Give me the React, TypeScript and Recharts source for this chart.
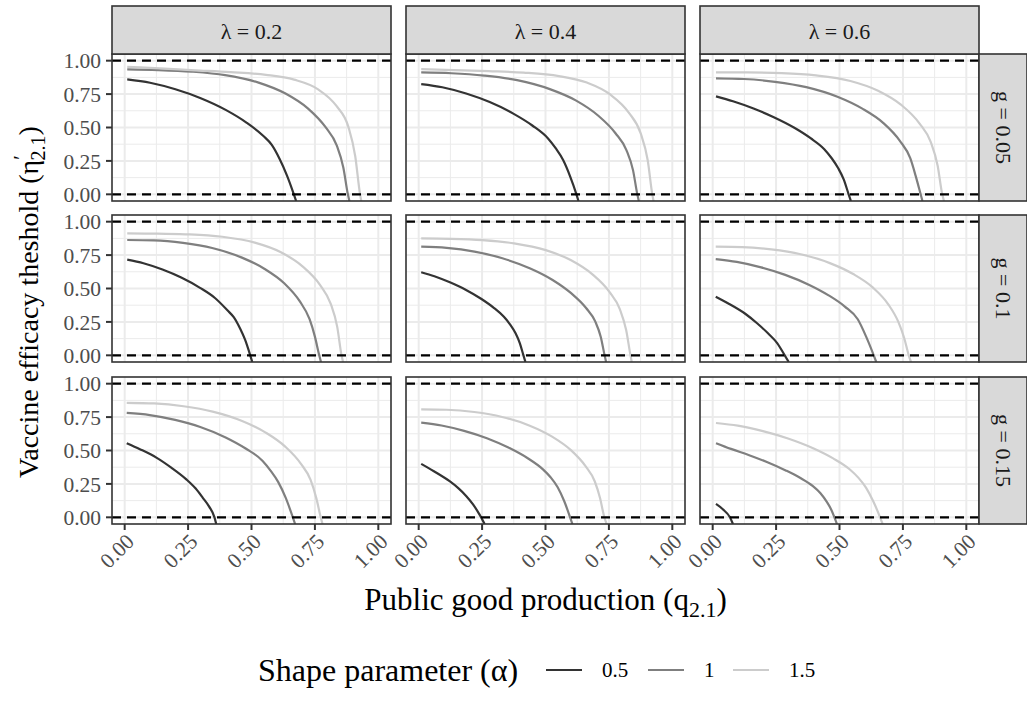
import { LineChart, Line, XAxis, YAxis, ReferenceLine } from 'recharts';

const lambdas = ['0.2', '0.4', '0.6'];
const gValues = ['0.05', '0.1', '0.15'];
const alphas = ['0.5', '1', '1.5'];
const alphaColors = ['#333333', '#7f7f7f', '#cccccc'];
const majorTicks = [0, 0.25, 0.5, 0.75, 1];
const minorTicks = [0.125, 0.375, 0.625, 0.875];

// each panel: [alpha 0.5, alpha 1, alpha 1.5], points are [q, eta]
// g = 0.05
const g005_l02 = [
  [[0.01, 0.86], [0.1, 0.835], [0.2, 0.786], [0.3, 0.719], [0.4, 0.63], [0.48, 0.537], [0.547, 0.436], [0.58, 0.37], [0.61, 0.268], [0.64, 0.14], [0.667, 0], [0.676, -0.05]],
  [[0.01, 0.935], [0.132, 0.93], [0.264, 0.918], [0.396, 0.892], [0.528, 0.836], [0.634, 0.754], [0.722, 0.643], [0.792, 0.502], [0.836, 0.366], [0.862, 0.2], [0.88, 0], [0.886, -0.05]],
  [[0.01, 0.954], [0.139, 0.942], [0.278, 0.928], [0.418, 0.914], [0.557, 0.894], [0.668, 0.858], [0.761, 0.787], [0.835, 0.661], [0.882, 0.505], [0.909, 0.285], [0.928, 0], [0.933, -0.05]],
];
const g005_l04 = [
  [[0.01, 0.825], [0.093, 0.801], [0.187, 0.754], [0.28, 0.69], [0.373, 0.604], [0.448, 0.515], [0.51, 0.418], [0.54, 0.345], [0.57, 0.255], [0.597, 0.135], [0.622, 0], [0.63, -0.05]],
  [[0.01, 0.912], [0.129, 0.906], [0.259, 0.888], [0.388, 0.854], [0.517, 0.787], [0.621, 0.701], [0.707, 0.59], [0.776, 0.457], [0.819, 0.331], [0.845, 0.181], [0.862, 0], [0.868, -0.05]],
  [[0.01, 0.937], [0.138, 0.93], [0.276, 0.922], [0.414, 0.911], [0.553, 0.885], [0.663, 0.836], [0.755, 0.747], [0.829, 0.61], [0.875, 0.458], [0.903, 0.255], [0.921, 0], [0.926, -0.05]],
];
const g005_l06 = [
  [[0.013, 0.733], [0.08, 0.696], [0.161, 0.642], [0.241, 0.577], [0.322, 0.498], [0.386, 0.42], [0.44, 0.338], [0.47, 0.268], [0.495, 0.195], [0.517, 0.11], [0.536, 0], [0.545, -0.05]],
  [[0.013, 0.868], [0.123, 0.863], [0.246, 0.842], [0.369, 0.802], [0.492, 0.73], [0.59, 0.641], [0.672, 0.535], [0.738, 0.4], [0.779, 0.27], [0.8, 0.14], [0.82, 0], [0.827, -0.05]],
  [[0.013, 0.913], [0.136, 0.912], [0.272, 0.907], [0.407, 0.89], [0.543, 0.848], [0.652, 0.775], [0.742, 0.671], [0.815, 0.531], [0.86, 0.39], [0.887, 0.214], [0.905, 0], [0.912, -0.05]],
];
// g = 0.1
const g01_l02 = [
  [[0.01, 0.716], [0.074, 0.689], [0.149, 0.642], [0.223, 0.582], [0.297, 0.505], [0.356, 0.429], [0.406, 0.335], [0.43, 0.285], [0.455, 0.2], [0.475, 0.115], [0.495, 0], [0.503, -0.05]],
  [[0.01, 0.863], [0.115, 0.86], [0.23, 0.841], [0.345, 0.803], [0.46, 0.733], [0.552, 0.646], [0.629, 0.539], [0.69, 0.405], [0.729, 0.27], [0.75, 0.14], [0.767, 0], [0.774, -0.05]],
  [[0.01, 0.913], [0.128, 0.91], [0.257, 0.905], [0.385, 0.887], [0.513, 0.843], [0.616, 0.771], [0.701, 0.666], [0.77, 0.527], [0.812, 0.387], [0.838, 0.213], [0.855, 0], [0.861, -0.05]],
];
const g01_l04 = [
  [[0.01, 0.622], [0.062, 0.592], [0.123, 0.546], [0.185, 0.491], [0.246, 0.423], [0.295, 0.357], [0.336, 0.288], [0.36, 0.232], [0.382, 0.165], [0.399, 0.09], [0.413, 0], [0.421, -0.05]],
  [[0.01, 0.813], [0.11, 0.804], [0.22, 0.776], [0.33, 0.726], [0.44, 0.65], [0.528, 0.564], [0.601, 0.465], [0.66, 0.354], [0.696, 0.254], [0.718, 0.137], [0.733, 0], [0.739, -0.05]],
  [[0.01, 0.875], [0.125, 0.872], [0.251, 0.862], [0.376, 0.838], [0.501, 0.787], [0.601, 0.711], [0.685, 0.606], [0.752, 0.475], [0.793, 0.346], [0.818, 0.189], [0.835, 0], [0.84, -0.05]],
];
const g01_l06 = [
  [[0.012, 0.438], [0.06, 0.39], [0.127, 0.313], [0.175, 0.24], [0.219, 0.163], [0.255, 0.09], [0.284, 0], [0.3, -0.05]],
  [[0.012, 0.72], [0.095, 0.699], [0.191, 0.658], [0.286, 0.602], [0.381, 0.527], [0.457, 0.449], [0.521, 0.365], [0.572, 0.27], [0.605, 0.14], [0.635, 0], [0.645, -0.05]],
  [[0.012, 0.813], [0.116, 0.81], [0.231, 0.793], [0.347, 0.756], [0.462, 0.69], [0.554, 0.608], [0.631, 0.508], [0.693, 0.38], [0.732, 0.25], [0.755, 0.13], [0.773, 0], [0.782, -0.05]],
];
// g = 0.15
const g015_l02 = [
  [[0.008, 0.555], [0.06, 0.51], [0.125, 0.447], [0.185, 0.37], [0.243, 0.284], [0.28, 0.215], [0.308, 0.146], [0.333, 0.08], [0.354, 0], [0.361, -0.05]],
  [[0.008, 0.781], [0.099, 0.765], [0.199, 0.729], [0.298, 0.676], [0.398, 0.598], [0.477, 0.515], [0.544, 0.422], [0.575, 0.35], [0.605, 0.265], [0.635, 0.145], [0.663, 0], [0.672, -0.05]],
  [[0.008, 0.857], [0.116, 0.852], [0.232, 0.831], [0.347, 0.791], [0.463, 0.721], [0.556, 0.634], [0.633, 0.529], [0.695, 0.4], [0.733, 0.28], [0.756, 0.14], [0.773, 0], [0.78, -0.05]],
];
const g015_l04 = [
  [[0.01, 0.4], [0.06, 0.345], [0.122, 0.27], [0.155, 0.22], [0.188, 0.158], [0.215, 0.095], [0.24, 0.02], [0.26, -0.05]],
  [[0.01, 0.708], [0.09, 0.687], [0.179, 0.647], [0.269, 0.592], [0.358, 0.518], [0.43, 0.442], [0.49, 0.359], [0.52, 0.3], [0.548, 0.225], [0.574, 0.12], [0.597, 0], [0.606, -0.05]],
  [[0.01, 0.808], [0.11, 0.805], [0.219, 0.788], [0.329, 0.751], [0.438, 0.686], [0.526, 0.604], [0.599, 0.505], [0.657, 0.385], [0.694, 0.27], [0.715, 0.145], [0.732, 0], [0.741, -0.05]],
];
const g015_l06 = [
  [[0.013, 0.1], [0.04, 0.06], [0.068, 0], [0.08, -0.05]],
  [[0.013, 0.555], [0.072, 0.512], [0.144, 0.465], [0.216, 0.412], [0.288, 0.351], [0.346, 0.294], [0.394, 0.235], [0.425, 0.18], [0.45, 0.115], [0.468, 0.055], [0.48, 0], [0.49, -0.05]],
  [[0.013, 0.706], [0.099, 0.686], [0.198, 0.645], [0.297, 0.59], [0.396, 0.517], [0.475, 0.441], [0.541, 0.358], [0.575, 0.295], [0.605, 0.22], [0.633, 0.12], [0.66, 0], [0.67, -0.05]],
];

const panels = [
  [g005_l02, g005_l04, g005_l06],
  [g01_l02, g01_l04, g01_l06],
  [g015_l02, g015_l04, g015_l06],
];

const W = 1027;
const H = 709;
const PW = 279;
const PH = 147;
const colX = [112, 406, 700];
const rowY = [54, 215, 377];
const Y_AXIS_W = 70;
const X_AXIS_H = 70;
const PAD = 15;
const FONT = '"Liberation Serif", "Times New Roman", serif';

const Panel = ({ row, col, curves }: any) => {
  const showY = col === 0;
  const showX = row === 2;
  const left = showY ? Y_AXIS_W : 40;
  const bottom = showX ? X_AXIS_H : PAD;
  const w = PW + left + 5;
  const h = PH + PAD + bottom;
  const tickStyle = { fontSize: 21.5, fill: '#4d4d4d', fontFamily: FONT };

  return (
    <div style={{ position: 'absolute', left: colX[col] - left, top: rowY[row] - PAD, width: w, height: h }}>
      <LineChart
        width={w}
        height={h}
        margin={{ top: PAD, right: 5, bottom: showX ? 0 : PAD, left: showY ? 0 : left }}
      >
        <XAxis
          type="number"
          dataKey="q"
          domain={[-0.05, 1.05]}
          ticks={majorTicks}
          interval={0}
          allowDataOverflow
          hide={!showX}
          height={X_AXIS_H}
          axisLine={false}
          tickLine={{ stroke: '#333', strokeWidth: 2 }}
          tickSize={6}
          tickMargin={2}
          angle={-45}
          textAnchor="end"
          tick={tickStyle}
          tickFormatter={(v: number) => v.toFixed(2)}
        />
        <YAxis
          type="number"
          dataKey="eta"
          domain={[-0.05, 1.05]}
          ticks={majorTicks}
          interval={0}
          allowDataOverflow
          hide={!showY}
          width={Y_AXIS_W}
          axisLine={false}
          tickLine={{ stroke: '#333', strokeWidth: 2 }}
          tickSize={6}
          tickMargin={5}
          tick={tickStyle}
          tickFormatter={(v: number) => v.toFixed(2)}
        />
        {minorTicks.map((v) => (
          <ReferenceLine key={'mx' + v} x={v} stroke="#ebebeb" strokeWidth={1} />
        ))}
        {minorTicks.map((v) => (
          <ReferenceLine key={'my' + v} y={v} stroke="#ebebeb" strokeWidth={1} />
        ))}
        {majorTicks.map((v) => (
          <ReferenceLine key={'Mx' + v} x={v} stroke="#ebebeb" strokeWidth={2} />
        ))}
        {majorTicks.map((v) => (
          <ReferenceLine key={'My' + v} y={v} stroke="#ebebeb" strokeWidth={2} />
        ))}
        {curves.map((c: number[][], i: number) => (
          <Line
            key={alphas[i]}
            data={c.map(([q, eta]) => ({ q, eta }))}
            dataKey="eta"
            type="monotone"
            stroke={alphaColors[i]}
            strokeWidth={2.2}
            dot={false}
            isAnimationActive={false}
          />
        ))}
        <ReferenceLine y={0} stroke="#000" strokeWidth={2.2} strokeDasharray="9 6" />
        <ReferenceLine y={1} stroke="#000" strokeWidth={2.2} strokeDasharray="9 6" />
      </LineChart>
    </div>
  );
};

export default function App() {
  return (
    <div style={{ position: 'absolute', left: 0, top: 0, width: W, height: H, background: '#fff', fontFamily: FONT }}>
      {panels.map((rowPanels, r) =>
        rowPanels.map((curves, c) => <Panel key={r + '-' + c} row={r} col={c} curves={curves} />)
      )}
      <svg width={W} height={H} style={{ position: 'absolute', left: 0, top: 0, pointerEvents: 'none' }}>
        {/* panel borders */}
        {rowY.map((y) =>
          colX.map((x) => (
            <rect key={x + '-' + y} x={x} y={y} width={PW} height={PH} fill="none" stroke="#333" strokeWidth={1.6} />
          ))
        )}
        {/* top strips */}
        {colX.map((x, i) => (
          <g key={'ts' + i}>
            <rect x={x} y={6} width={PW} height={48} fill="#d9d9d9" stroke="#333" strokeWidth={1.6} />
            <text x={x + PW / 2} y={31} textAnchor="middle" dominantBaseline="central" fontSize={22} fill="#1a1a1a" fontFamily={FONT}>
              λ = {lambdas[i]}
            </text>
          </g>
        ))}
        {/* right strips */}
        {rowY.map((y, i) => (
          <g key={'rs' + i}>
            <rect x={979} y={y} width={48} height={PH} fill="#d9d9d9" stroke="#333" strokeWidth={1.6} />
            <text
              transform={`translate(1003, ${y + PH / 2}) rotate(90)`}
              textAnchor="middle"
              dominantBaseline="central"
              fontSize={22}
              fill="#1a1a1a"
              fontFamily={FONT}
            >
              g = {gValues[i]}
            </text>
          </g>
        ))}
        {/* axis titles */}
        <text x={545.5} y={610} textAnchor="middle" fontSize={31} fontFamily={FONT} fill="#000">
          Public good production (q<tspan dy={7} fontSize={22}>2.1</tspan>
          <tspan dy={-7}>)</tspan>
        </text>
        <text transform="translate(38, 302) rotate(-90)" textAnchor="middle" fontSize={28} fontFamily={FONT} fill="#000">
          Vaccine efficacy theshold (η<tspan dy={-10} fontSize={20}>′</tspan>
          <tspan dx={-5} dy={17} fontSize={20}>2.1</tspan>
          <tspan dy={-7}>)</tspan>
        </text>
        {/* legend */}
        <text x={258} y={670} dominantBaseline="central" fontSize={32} fontFamily={FONT} fill="#000">
          Shape parameter (α)
        </text>
        {alphas.map((a, i) => {
          const x0 = [546, 648, 733][i];
          return (
            <g key={'lg' + a}>
              <line x1={x0} x2={x0 + 36} y1={670} y2={670} stroke={alphaColors[i]} strokeWidth={2.2} />
              <text x={x0 + 56} y={670} dominantBaseline="central" fontSize={21} fontFamily={FONT} fill="#000">
                {a}
              </text>
            </g>
          );
        })}
      </svg>
    </div>
  );
}
